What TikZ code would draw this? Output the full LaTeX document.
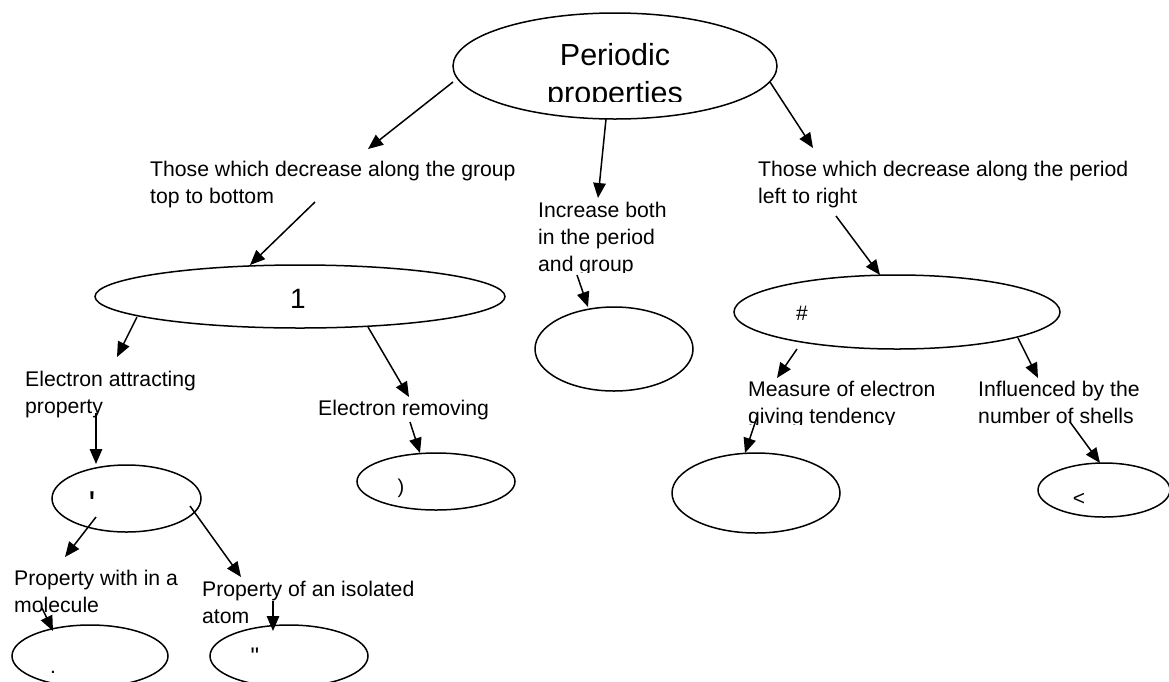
\documentclass[tikz,border=0pt]{standalone}
\usepackage{fontspec}
\setmainfont{Liberation Sans}
\newfontfamily\rawfont{Liberation Sans}
\usetikzlibrary{arrows.meta,shapes.geometric}
\begin{document}
\begin{tikzpicture}[x=1pt,y=-1pt,
  oval/.style={draw, ellipse, line width=1.5pt, inner sep=0pt},
  lbl/.style={anchor=base west, align=left, inner sep=0pt, font=\fontsize{21.2}{27}\selectfont},
  sym/.style={anchor=base, inner sep=0pt},
  arr/.style={line width=1.5pt, -{Triangle[length=15pt,width=12.5pt]}},
]
\useasboundingbox (0,0) rectangle (1169,681);
\clip (0,0) rectangle (1169,681);

% ellipses
\node[oval, minimum width=324pt, minimum height=106pt] (top) at (615,66) {};
\node[oval, minimum width=410pt, minimum height=63pt] (one) at (300,296.5) {};
\node[oval, minimum width=158pt, minimum height=84pt] (mid) at (614,349) {};
\node[oval, minimum width=326pt, minimum height=74pt] (hash) at (897,312) {};
\node[oval, minimum width=149pt, minimum height=67pt] (quote) at (126.5,498.5) {};
\node[oval, minimum width=158pt, minimum height=57pt] (paren) at (436,481.5) {};
\node[oval, minimum width=168pt, minimum height=80pt] (meas) at (756,493) {};
\node[oval, minimum width=132pt, minimum height=54pt] (less) at (1104,490) {};
\node[oval, minimum width=156pt, minimum height=62pt] (dot) at (90,656) {};
\node[oval, minimum width=158pt, minimum height=62pt] (dquote) at (289,656) {};

% symbols inside ellipses
\node[sym, font=\fontsize{28}{30}\selectfont] (onet) at (298,308) {1};
\node[sym, anchor=base west, font=\fontsize{21}{24}\selectfont] (hasht) at (796,320) {\#};
\node[sym, font=\rawfont\fontsize{36}{40}\selectfont] (quotet) at (92,516) {\char"27};
\node[sym, font=\fontsize{20}{22}\selectfont] (parent) at (401,493) {)};
\node[sym, font=\fontsize{21}{24}\selectfont] (lesst) at (1079,505.5) {<};
\node[sym, font=\fontsize{21}{24}\selectfont] (dott) at (53,673) {.};
\node[sym, font=\rawfont\fontsize{24}{26}\selectfont] (dquotet) at (255,664) {\char"22};

% title (clipped like the original text box)
\begin{scope}
\clip (450,0) rectangle (780,101);
\node[anchor=base, align=center, inner sep=0pt, font=\fontsize{30.5}{38}\selectfont] (title) at (615,103) {Periodic\\properties};
\end{scope}

% labels (anchor = baseline of last line)
\node[lbl] (grp) at (150,203) {Those which decrease along the group\\top to bottom};
\node[lbl] (per) at (758,203) {Those which decrease along the period\\left to right};
\begin{scope}
\clip (520,190) rectangle (720,272);
\node[lbl] (both) at (538,271) {Increase both\\in the period\\and group};
\end{scope}
\node[lbl] (attr) at (25,413) {Electron attracting\\property};
\node[lbl] (remv) at (318,415) {Electron removing};
\begin{scope}
\clip (740,370) rectangle (960,424);
\node[lbl] (give) at (748,423) {Measure of electron\\giving tendency};
\end{scope}
\node[lbl] (infl) at (978,423) {Influenced by the\\number of shells};
\node[lbl] (mol) at (14,612) {Property with in a\\molecule};
\node[lbl] (iso) at (202,623) {Property of an isolated\\atom};

% connector end points
\coordinate (a1s) at (453,82);   \coordinate (a1e) at (368,149);
\coordinate (a2s) at (606,119);  \coordinate (a2e) at (598,198);
\coordinate (a3s) at (770,82);   \coordinate (a3e) at (813,148);
\coordinate (a4s) at (315,202);  \coordinate (a4e) at (250,265);
\coordinate (a5s) at (836,216);  \coordinate (a5e) at (880,275);
\coordinate (a6s) at (577,275);  \coordinate (a6e) at (588,307);
\coordinate (a7s) at (137,317);  \coordinate (a7e) at (117,357);
\coordinate (a8s) at (368,327);  \coordinate (a8e) at (409,397);
\coordinate (a9s) at (410,422);  \coordinate (a9e) at (420,453);
\coordinate (a10s) at (96,413);  \coordinate (a10e) at (96,464);
\coordinate (a11s) at (96,517);  \coordinate (a11e) at (65,557);
\coordinate (a12s) at (190,506); \coordinate (a12e) at (241,577);
\coordinate (a13s) at (42,608);  \coordinate (a13e) at (53,631);
\coordinate (a14s) at (273,601); \coordinate (a14e) at (273,631);
\coordinate (a15s) at (797,349); \coordinate (a15e) at (777,378);
\coordinate (a16s) at (1018,338);\coordinate (a16e) at (1038,378);
\coordinate (a17s) at (757,417); \coordinate (a17e) at (745,453);
\coordinate (a18s) at (1070,422);\coordinate (a18e) at (1100,463);

\foreach \i in {1,...,18} \draw[arr] (a\i s) -- (a\i e);
\end{tikzpicture}
\end{document}
